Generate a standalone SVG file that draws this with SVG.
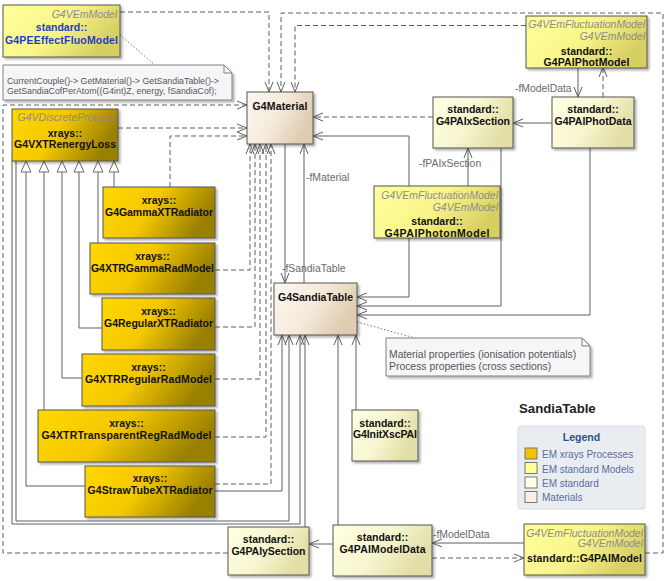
<svg xmlns="http://www.w3.org/2000/svg" width="667" height="581" viewBox="0 0 667 581">
<defs>
<linearGradient id="gGold" x1="0" y1="0" x2="1" y2="0.3">
<stop offset="0" stop-color="#ffd800"/><stop offset="0.5" stop-color="#f5c800"/><stop offset="1" stop-color="#9a8000"/>
</linearGradient>
<linearGradient id="gStdM" x1="0" y1="0" x2="1" y2="0.4">
<stop offset="0" stop-color="#ffff9c"/><stop offset="0.55" stop-color="#f8f58a"/><stop offset="1" stop-color="#d8cf62"/>
</linearGradient>
<linearGradient id="gStd" x1="0" y1="0" x2="1" y2="0.4">
<stop offset="0" stop-color="#ffffe4"/><stop offset="0.55" stop-color="#f7f6d0"/><stop offset="1" stop-color="#e2dea6"/>
</linearGradient>
<linearGradient id="gMat" x1="0" y1="0" x2="1" y2="0.4">
<stop offset="0" stop-color="#fdf8f0"/><stop offset="0.55" stop-color="#f5eadb"/><stop offset="1" stop-color="#e0ccb0"/>
</linearGradient>
<filter id="sh" x="-10%" y="-10%" width="130%" height="130%">
<feDropShadow dx="2" dy="2" stdDeviation="1.2" flood-color="#000" flood-opacity="0.3"/>
</filter>
<marker id="arr" viewBox="0 0 10 10" refX="10" refY="5" markerWidth="10" markerHeight="10" markerUnits="userSpaceOnUse" orient="auto">
<path d="M0,1 L10,5 L0,9" fill="none" stroke="#5f5f5f" stroke-width="1"/>
</marker>
<marker id="gen" viewBox="0 0 12 12" refX="11.5" refY="6" markerWidth="12" markerHeight="12" markerUnits="userSpaceOnUse" orient="auto">
<path d="M0.5,1 L11.5,6 L0.5,11 Z" fill="#fff" stroke="#6a6a6a" stroke-width="1"/>
</marker>
<style>
.box{stroke:#555;stroke-width:1;filter:url(#sh)}
.gold{fill:url(#gGold)}
.stdm{fill:url(#gStdM)}
.std{fill:url(#gStd)}
.mat{fill:url(#gMat)}
.nm{font-family:"Liberation Sans",Arial,sans-serif;font-weight:bold;font-size:10.5px;fill:#111;text-anchor:middle}
.blue{fill:#1c3fc0}
.st{font-family:"Liberation Sans",Arial,sans-serif;font-style:italic;font-size:10.5px;fill:#8c8c8c;text-anchor:end}
.lbl{font-family:"Liberation Sans",Arial,sans-serif;font-size:10.4px;fill:#6a6a6a}
.nt{font-family:"Liberation Sans",Arial,sans-serif;fill:#555}
.note{fill:#f6f6f8;stroke:#808080;stroke-width:1;filter:url(#sh)}
.fold{fill:none;stroke:#808080;stroke-width:1}
.c{fill:none;stroke:#5f5f5f;stroke-width:1}
.d{stroke-dasharray:5,3}
.dot{fill:none;stroke:#777;stroke-width:1;stroke-dasharray:1.5,2}
.a{marker-end:url(#arr)}
.g{marker-end:url(#gen)}
.lg{font-family:"Liberation Sans",Arial,sans-serif;font-size:10px;fill:#5a6e9e}
</style>
</defs>
<rect width="667" height="581" fill="#fff"/>

<g id="connectors">
<path class="c d a" d="M120,12 H269 V92"/>
<path class="c d a" d="M645,553 H663 V13 H281 V92"/>
<path class="c d a" d="M526,25.5 H295 V92"/>
<path class="c d a" d="M228,553 H3 V105 H247"/>
<path class="c d a" d="M118,128 H247"/>
<path class="c d a" d="M170,187 V136 H247"/>
<path class="c d a" d="M215,270 H250 V144"/>
<path class="c d a" d="M215,327 H255 V144"/>
<path class="c d a" d="M215,379 H260 V144"/>
<path class="c d a" d="M215,437 H266 V144"/>
<path class="c d a" d="M215,484 H271 V144"/>
<path class="c d a" d="M433,117 H313"/>
<path class="c d a" d="M603,97 V67"/>
<path class="c d a" d="M432,558 H524"/>
<path class="c a" d="M578,68 V97"/>
<path class="c a" d="M552,123 H513"/>
<path class="c a" d="M468,186 V148"/>
<path class="c a" d="M409,186 V136 H313"/>
<path class="c a" d="M409,238 V297 H357"/>
<path class="c a" d="M501,148 V306 H357"/>
<path class="c a" d="M590,148 V315 H357"/>
<path class="c a" d="M285,144 V283"/>
<path class="c a" d="M304,283 V144"/>
<path class="c a" d="M215,491 H282 V335"/>
<path class="c a" d="M16,161 V521 H289 V335"/>
<path class="c a" d="M12,161 V524 H300 V335"/>
<path class="c a" d="M305,527 V335"/>
<path class="c a" d="M338,525 V335"/>
<path class="c a" d="M356,410 V335"/>
<path class="c a" d="M333,544 H309"/>
<path class="c a" d="M524,543 H432"/>
<path class="c g" d="M114,187 V161"/>
<path class="c g" d="M98,243 V161"/>
<path class="c g" d="M102,328 H79 V161"/>
<path class="c g" d="M82,378 H62 V161"/>
<path class="c g" d="M44,410 V161"/>
<path class="c g" d="M85,486 H26 V161"/>
<path class="dot" d="M120,35 L155,65"/>
<path class="dot" d="M357,322 L415,338"/>
<text class="lbl" x="515" y="92">-fModelData</text>
<text class="lbl" x="419" y="166.5">-fPAIxSection</text>
<text class="lbl" x="306" y="181">-fMaterial</text>
<text class="lbl" x="282" y="272">-fSandiaTable</text>
<text class="lbl" x="433" y="538">-fModelData</text>
</g>

<g id="G4PEEffectFluoModel">
<rect class="box stdm" x="3" y="5" width="117" height="52"/>
<text class="st" x="117" y="18">G4VEmModel</text>
<text class="nm blue" x="61.5" y="31">standard::</text>
<text class="nm blue" x="61.5" y="44" textLength="113">G4PEEffectFluoModel</text>
</g>

<g id="note1">
<path class="note" d="M3,65 H224 L232,73 V100 H3 Z"/>
<path class="fold" d="M224,65 V73 H232"/>
<text class="nt" x="7" y="84" font-size="8.8">CurrentCouple()-&gt; GetMaterial()-&gt; GetSandiaTable()-&gt;</text>
<text class="nt" x="7" y="94" font-size="8.8">GetSandiaCofPerAtom((G4int)Z, energy, fSandiaCof);</text>
</g>

<g id="G4VXTRenergyLoss">
<rect class="box gold" x="12" y="109" width="106" height="52"/>
<text class="st" x="115" y="120.5">G4VDiscreteProcess</text>
<text class="nm" x="65" y="137">xrays::</text>
<text class="nm" x="65" y="148" textLength="102">G4VXTRenergyLoss</text>
</g>

<g id="G4GammaXTRadiator">
<rect class="box gold" x="103" y="187" width="112" height="51"/>
<text class="nm" x="159" y="204">xrays::</text>
<text class="nm" x="159" y="216" textLength="108">G4GammaXTRadiator</text>
</g>

<g id="G4XTRGammaRadModel">
<rect class="box gold" x="90" y="243" width="125" height="51"/>
<text class="nm" x="152.5" y="260">xrays::</text>
<text class="nm" x="152.5" y="272" textLength="123">G4XTRGammaRadModel</text>
</g>

<g id="G4RegularXTRadiator">
<rect class="box gold" x="102" y="298" width="113" height="52"/>
<text class="nm" x="158.5" y="315">xrays::</text>
<text class="nm" x="158.5" y="327" textLength="109">G4RegularXTRadiator</text>
</g>

<g id="G4XTRRegularRadModel">
<rect class="box gold" x="82" y="354" width="133" height="52"/>
<text class="nm" x="148.5" y="371">xrays::</text>
<text class="nm" x="148.5" y="383" textLength="127">G4XTRRegularRadModel</text>
</g>

<g id="G4XTRTransparentRegRadModel">
<rect class="box gold" x="38" y="410" width="177" height="52"/>
<text class="nm" x="126.5" y="427">xrays::</text>
<text class="nm" x="126.5" y="439" textLength="170">G4XTRTransparentRegRadModel</text>
</g>

<g id="G4StrawTubeXTRadiator">
<rect class="box gold" x="85" y="466" width="130" height="51"/>
<text class="nm" x="150" y="482">xrays::</text>
<text class="nm" x="150" y="494" textLength="125">G4StrawTubeXTRadiator</text>
</g>

<g id="G4Material">
<rect class="box mat" x="247" y="92" width="66" height="52"/>
<text class="nm" x="280" y="110" textLength="55">G4Material</text>
</g>

<g id="G4SandiaTable">
<rect class="box mat" x="274" y="283" width="83" height="52"/>
<text class="nm" x="315.5" y="300.5" textLength="75">G4SandiaTable</text>
</g>

<g id="G4PAIxSection">
<rect class="box std" x="433" y="97" width="80" height="51"/>
<text class="nm" x="473" y="113">standard::</text>
<text class="nm" x="473" y="125" textLength="74">G4PAIxSection</text>
</g>

<g id="G4PAIPhotModel">
<rect class="box stdm" x="526" y="16" width="121" height="52"/>
<text class="st" x="645" y="28">G4VEmFluctuationModel</text>
<text class="st" x="645" y="40">G4VEmModel</text>
<text class="nm" x="586.5" y="55">standard::</text>
<text class="nm" x="586.5" y="66" textLength="86">G4PAIPhotModel</text>
</g>

<g id="G4PAIPhotData">
<rect class="box std" x="552" y="97" width="82" height="51"/>
<text class="nm" x="593" y="113">standard::</text>
<text class="nm" x="593" y="125" textLength="77">G4PAIPhotData</text>
</g>

<g id="G4PAIPhotonModel">
<rect class="box stdm" x="374" y="186" width="126" height="52"/>
<text class="st" x="498" y="199">G4VEmFluctuationModel</text>
<text class="st" x="498" y="211">G4VEmModel</text>
<text class="nm" x="437" y="225">standard::</text>
<text class="nm" x="437" y="236.5" textLength="105">G4PAIPhotonModel</text>
</g>

<g id="G4InitXscPAI">
<rect class="box std" x="352" y="410" width="66" height="51"/>
<text class="nm" x="385" y="426.5">standard::</text>
<text class="nm" x="385" y="438" textLength="64">G4InitXscPAI</text>
</g>

<g id="G4PAIySection">
<rect class="box std" x="228" y="527" width="81" height="48"/>
<text class="nm" x="268.5" y="543">standard::</text>
<text class="nm" x="268.5" y="555" textLength="74">G4PAIySection</text>
</g>

<g id="G4PAIModelData">
<rect class="box std" x="333" y="525" width="99" height="51"/>
<text class="nm" x="382.5" y="540.5">standard::</text>
<text class="nm" x="382.5" y="553" textLength="86">G4PAIModelData</text>
</g>

<g id="G4PAIModel">
<rect class="box stdm" x="524" y="524" width="121" height="51"/>
<text class="st" x="643" y="536.5">G4VEmFluctuationModel</text>
<text class="st" x="643" y="547">G4VEmModel</text>
<text class="nm" x="584.5" y="562" textLength="115">standard::G4PAIModel</text>
</g>

<g id="note2">
<path class="note" d="M386,338 H582 L590,346 V376 H386 Z"/>
<path class="fold" d="M582,338 V346 H590"/>
<text class="nt" x="389" y="358" font-size="10.4">Material properties (ionisation potentials)</text>
<text class="nt" x="389" y="370" font-size="10.4">Process properties (cross sections)</text>
</g>

<g id="title">
<text x="519" y="413" font-family="Liberation Sans, Arial, sans-serif" font-weight="bold" font-size="13.2" fill="#222">SandiaTable</text>
</g>

<g id="legend">
<rect x="518" y="426" width="127" height="83" rx="3" fill="#e9ecf0" stroke="#d5d9de"/>
<text x="581.5" y="441" font-family="Liberation Sans, Arial, sans-serif" font-weight="bold" font-size="10.5" fill="#30508a" text-anchor="middle">Legend</text>
<rect x="525" y="448" width="12" height="11" fill="#f2c200" stroke="#777"/>
<text class="lg" x="542" y="458">EM xrays Processes</text>
<rect x="525" y="462.5" width="12" height="11" fill="#ffff99" stroke="#777"/>
<text class="lg" x="542" y="472.5">EM standard Models</text>
<rect x="525" y="477" width="12" height="11" fill="#ffffe4" stroke="#777"/>
<text class="lg" x="542" y="487">EM standard</text>
<rect x="525" y="491.5" width="12" height="11" fill="#fbeee2" stroke="#777"/>
<text class="lg" x="542" y="501">Materials</text>
</g>
</svg>
